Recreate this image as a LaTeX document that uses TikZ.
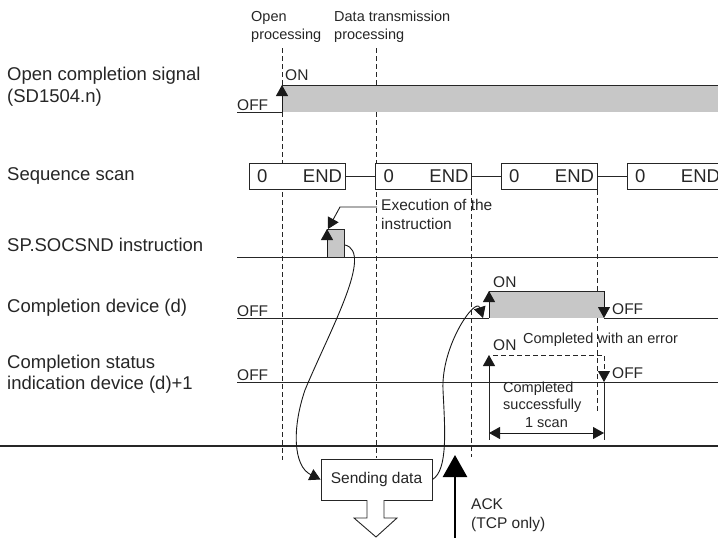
\documentclass[tikz,border=0pt]{standalone}
\usepackage{fontspec}
\setmainfont{Liberation Sans}
\usetikzlibrary{arrows.meta,positioning}

\begin{document}
\begin{tikzpicture}[
    x=1pt, y=-1pt,
    lbl/.style={
        anchor=west,
        align=left,
        inner sep=0pt,
        text=black!85,
        font=\fontsize{18.5}{21.5}\selectfont
    },
    note/.style={
        anchor=west,
        align=left,
        inner sep=0pt,
        text=black!85,
        font=\fontsize{15.5}{18.5}\selectfont
    },
    scanbox/.style={
        draw=black!85,
        line width=0.9pt,
        fill=white,
        minimum height=26pt,
        inner xsep=3pt,
        text width=90pt,
        text=black!85,
        font=\fontsize{18.5}{20}\selectfont
    },
    sendbox/.style={
        draw=black!85,
        line width=0.9pt,
        fill=white,
        minimum width=111pt,
        minimum height=41pt,
        text=black!85,
        font=\fontsize{15.5}{18}\selectfont
    },
    guide/.style={black!85, line width=0.8pt, dash pattern=on 5pt off 3pt},
    level/.style={black!85, line width=1pt},
    onfill/.style={fill=black!22},
    tip/.style={-{Triangle[length=11pt,width=12pt]}, black!90, line width=0.9pt},
    tips/.style={{Triangle[length=11pt,width=12pt]}-{Triangle[length=11pt,width=12pt]},
        black!90, line width=0.9pt}
]
\useasboundingbox (0,0) rectangle (718,538);
\clip (0,0) rectangle (718,538);

%--- labels on the left ---
\node[lbl] (lopen) at (7,86.5) {Open completion signal\\(SD1504.n)};
\node[lbl] (lscan) at (7,176) {Sequence scan};
\node[lbl] (linst) at (7,245) {SP.SOCSND instruction};
\node[lbl] (ldev) at (7,308) {Completion device (d)};
\node[lbl] (lstat) at (7,374) {Completion status\\indication device (d)+1};

%--- timing guides ---
\node[note, font=\fontsize{14.5}{18}\selectfont] (topen) at (251,27) {Open\\processing};
\node[note, font=\fontsize{14.5}{18}\selectfont] (tdata) at (334,27) {Data transmission\\processing};
\draw[guide] (282,48) -- (282,460);
\draw[guide] (376,48) -- (376,458);
\draw[guide] (471,190) -- (471,457);
\draw[guide] (597,190) -- (597,412);

%--- open completion signal ---
\fill[onfill] (282,85) rectangle (718,112);
\draw[level] (237,112) -- (282,112);
\draw[level] (282,85) -- (718,85);
\draw[tip] (282,112) -- (282,85);
\node[note, anchor=south west] (off1) at (237,111) {OFF};
\node[note] (on1) at (285,75) {ON};

%--- sequence scan ---
\node[scanbox] (s1) at (297,176) {\hspace*{5pt}0\hfill END};
\node[scanbox] (s2) at (423.5,176) {\hspace*{5pt}0\hfill END};
\node[scanbox] (s3) at (549,176) {\hspace*{5pt}0\hfill END};
\node[scanbox] (s4) at (675,176) {\hspace*{5pt}0\hfill END};
\draw[level] (s1.east) -- (s2.west);
\draw[level] (s2.east) -- (s3.west);
\draw[level] (s3.east) -- (s4.west);

%--- SP.SOCSND instruction ---
\draw[level] (237,257) -- (718,257);
\draw[level, onfill] (327,229) -- (344,229) -- (344,257) -- (327,257);
\coordinate (pulse) at (345,245);
\draw[tip] (327,257) -- (327,229);
\node[note] (exec) at (381,214.5) {Execution of the\\instruction};
\draw[tip] (377,207) -- (340,207) -- (328,229);

%--- completion device (d) ---
\fill[onfill] (489,291) rectangle (604,318);
\draw[level] (237,318) -- (489,318);
\draw[level] (489,291) -- (604,291);
\draw[level] (604,318) -- (718,318);
\draw[tip] (489,318) -- (489,291);
\draw[tip] (604,291) -- (604,318);
\node[note, anchor=south west] (off2) at (237,317) {OFF};
\node[note] (on2) at (493,282) {ON};
\node[note] (off3) at (612,309) {OFF};

%--- completion status (d)+1 ---
\draw[level] (237,382) -- (718,382);
\draw[tip] (489,382) -- (489,355);
\draw[guide] (493,355) -- (604,355) -- (604,372);
\draw[tip] (604,372) -- (604,382);
\node[note, anchor=south west] (off4) at (237,381) {OFF};
\node[note] (on3) at (493,345) {ON};
\node[note, font=\fontsize{14.5}{17}\selectfont] (err) at (523,340) {Completed with an error};
\node[note] (off5) at (612,373) {OFF};
\node[note, font=\fontsize{14.5}{16.5}\selectfont] (ok) at (503,397) {Completed\\successfully};
\node[note, anchor=center, font=\fontsize{14.5}{17}\selectfont] (scan) at (546.5,423) {1 scan};
\draw[level] (489,382) -- (489,440);
\draw[level] (604,382) -- (604,440);
\draw[tips] (489,433) -- (604,433);

%--- sequence line ---
\draw[black!85, line width=2pt] (0,446) -- (718,446);

%--- sending data ---
\node[sendbox] (send) at (376.5,479.5) {Sending data};
\draw[black!85, line width=0.9pt, fill=white]
    (367,500) -- (367,518) -- (354,518) -- (376,537) -- (397,518) -- (384,518) -- (384,500);
\draw[tip] (pulse) .. controls (374,252) and (330,330) .. (305,390)
    .. controls (292,428) and (293,466) .. (send.west);
\draw[tip] (send.east) .. controls (448,470) and (445,430) .. (443,390)
    .. controls (441,345) and (476,296) .. (483,318);

%--- ACK ---
\draw[-{Triangle[length=22pt,width=24pt]}, black, line width=2.6pt] (455,540) -- (455,455);
\node[note] (ack) at (471,515) {ACK\\(TCP only)};

\end{tikzpicture}
\end{document}
